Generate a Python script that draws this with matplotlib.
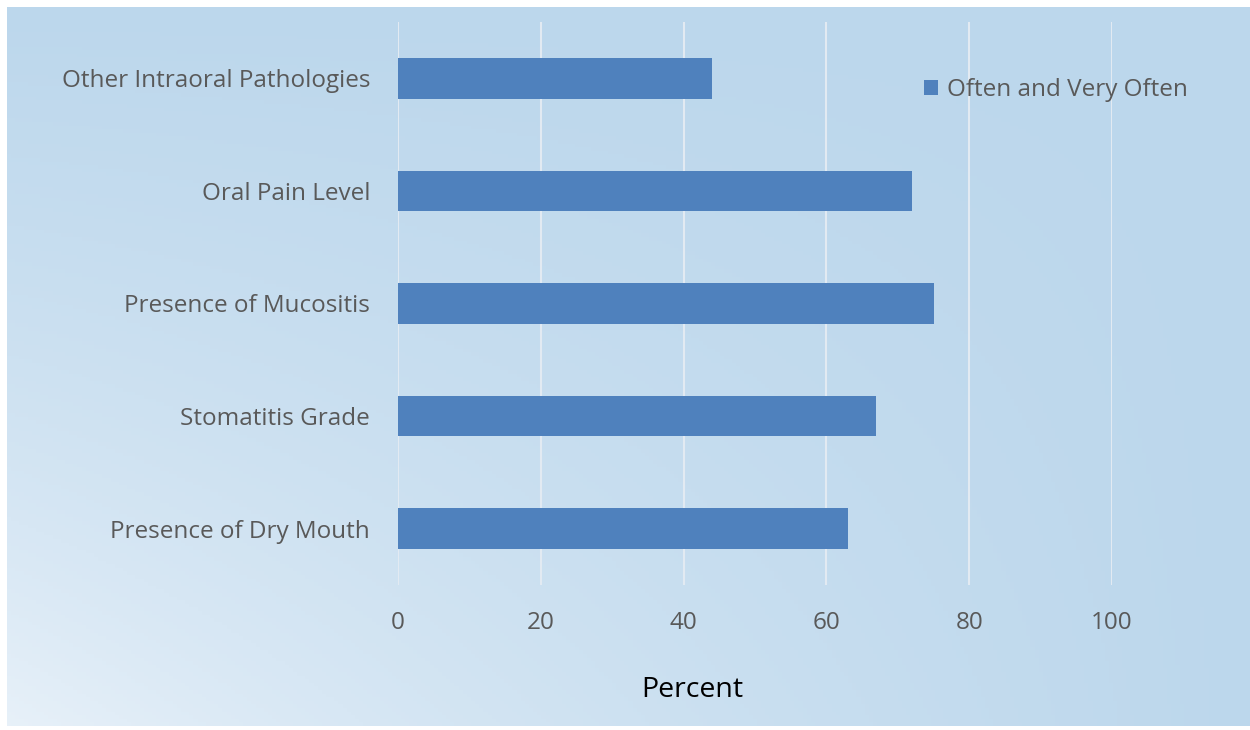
import matplotlib.pyplot as plt
import numpy as np

categories = ["Presence of Dry Mouth", "Stomatitis Grade", "Presence of Mucositis",
              "Oral Pain Level", "Other Intraoral Pathologies"]
values = [63, 67, 75, 72, 44]
xticks = [0, 20, 40, 60, 80, 100]
series_name = "Often and Very Often"

W, H = 1250, 730
fig = plt.figure(figsize=(W / 100, H / 100), dpi=100)
fig.patch.set_facecolor("white")

# gradient background (lighter towards bottom-left)
bg = fig.add_axes([7 / W, 4 / H, 1 - 7 / W, 1 - 11 / H])
gx, gy = np.meshgrid(np.linspace(0, 1, 300), np.linspace(0, 1, 200))
t = np.clip(1.0 - 0.6 * (1 - gx) * gy - 0.2 * (1 - gx) ** 3 * gy ** 3, 0, 1)
light = np.array([242, 247, 252]) / 255
dark = np.array([188, 215, 236]) / 255
img = light + (dark - light) * t[..., None]
bg.imshow(img, aspect="auto", origin="upper", extent=[0, 1, 0, 1])
bg.axis("off")

ax = fig.add_axes([398 / W, 1 - 585 / H, (1112 - 398) / W, 563 / H])
ax.patch.set_alpha(0)
y = np.arange(len(categories))
bars = ax.barh(y, values, height=0.36, color="#4F81BD", label=series_name, zorder=3)
ax.set_xlim(0, 100)
ax.set_ylim(-0.5, len(categories) - 0.5)
ax.set_xticks(xticks)
ax.set_yticks(y)
ax.set_yticklabels(categories)
for s in ax.spines.values():
    s.set_visible(False)
ax.tick_params(length=0, colors="#595959", labelsize=17.5)
ax.tick_params(axis="y", pad=20)
ax.tick_params(axis="x", pad=19)
for lbl in ax.get_xticklabels() + ax.get_yticklabels():
    lbl.set_family("Open Sans")
ax.grid(axis="x", color="#E2EAF2", linewidth=1.5, zorder=0)
ax.set_axisbelow(True)

fig.text(692 / W, 1 - 690 / H, "Percent", ha="center", va="center",
         fontsize=20.5, family="Open Sans", color="black")

leg = fig.legend(handles=[bars], labels=[series_name], loc="center left",
                 bbox_to_anchor=(902 / W, 1 - 90 / H), frameon=False,
                 prop={"family": "Open Sans", "size": 17.5},
                 handlelength=0.6, handleheight=0.6, handletextpad=0.35)
for txt in leg.get_texts():
    txt.set_color("#595959")

fig.savefig("out.png", dpi=100)
